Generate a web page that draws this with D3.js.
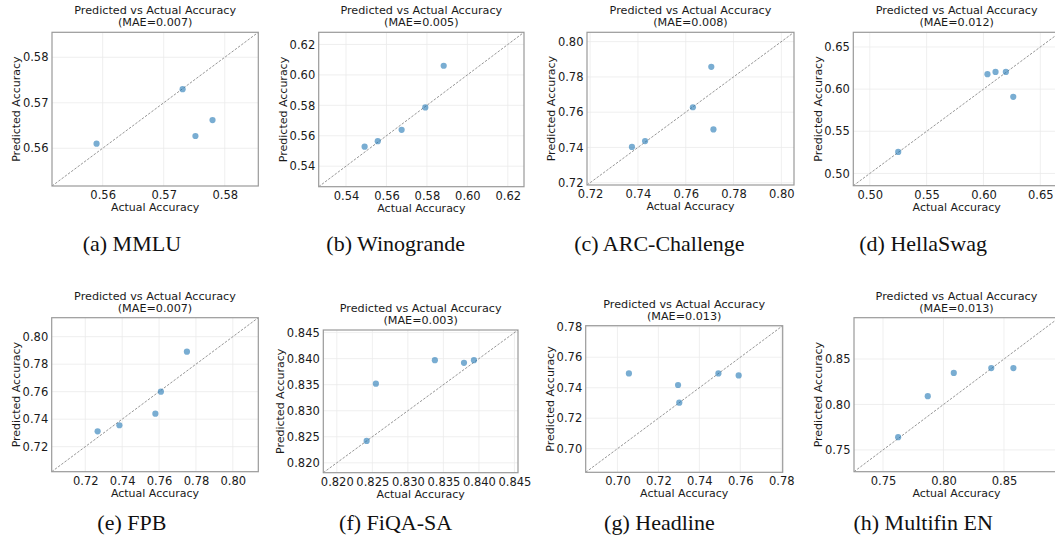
<!DOCTYPE html>
<html lang="en">
<head>
<meta charset="utf-8">
<title>Predicted vs Actual Accuracy</title>
<script src="https://d3js.org/d3.v7.min.js"></script>
<style>
  body { margin: 0; background: #fff; }
  svg { display: block; }
  .tick text { font-family: "DejaVu Sans", sans-serif; font-size: 11.5px; fill: #1a1a1a; }
  .ttl, .albl { font-family: "DejaVu Sans", sans-serif; fill: #1a1a1a; }
  .cap { font-family: "Liberation Serif", "Times New Roman", serif; font-size: 22px; fill: #111; }
</style>
</head>
<body>
<script>
// values
const names = ["MMLU", "Winogrande", "ARC-Challenge", "HellaSwag", "FPB", "FiQA-SA", "Headline", "Multifin EN"]
const letters = ["a", "b", "c", "d", "e", "f", "g", "h"]
const maes = ["0.007", "0.005", "0.008", "0.012", "0.007", "0.003", "0.013", "0.013"]

const mmluActual = [0.5590, 0.5731, 0.5752, 0.5780]
const mmluPred = [0.5610, 0.5730, 0.5627, 0.5662]
const winoActual = [0.5492, 0.5557, 0.5675, 0.5792, 0.5883]
const winoPred = [0.5528, 0.5564, 0.5639, 0.5786, 0.6060]
const arcActual = [0.7375, 0.7430, 0.7630, 0.7707, 0.7716]
const arcPred = [0.7403, 0.7436, 0.7628, 0.7857, 0.7502]
const hellaActual = [0.5250, 0.6035, 0.6106, 0.6197, 0.6262]
const hellaPred = [0.5256, 0.6177, 0.6204, 0.6204, 0.5909]
const fpbActual = [0.7267, 0.7385, 0.7580, 0.7610, 0.7751]
const fpbPred = [0.7312, 0.7356, 0.7440, 0.7600, 0.7891]
const fiqaActual = [0.8242, 0.8255, 0.8338, 0.8379, 0.8393]
const fiqaPred = [0.8242, 0.8352, 0.8397, 0.8392, 0.8397]
const headActual = [0.7056, 0.7296, 0.7302, 0.7493, 0.7592]
const headPred = [0.7494, 0.7418, 0.7302, 0.7494, 0.7481]
const multiActual = [0.7625, 0.7870, 0.8085, 0.8395, 0.8578]
const multiPred = [0.7640, 0.8091, 0.8347, 0.8401, 0.8401]

const actuals = [mmluActual, winoActual, arcActual, hellaActual, fpbActual, fiqaActual, headActual, multiActual]
const preds = [mmluPred, winoPred, arcPred, hellaPred, fpbPred, fiqaPred, headPred, multiPred]

// axis limits (same on x and y) and tick labels
const limits = [[0.5517, 0.5855], [0.5265, 0.628], [0.7187, 0.8053], [0.4855, 0.6674],
                [0.7018, 0.8138], [0.8181, 0.8455], [0.6845, 0.7807], [0.726, 0.8955]]
const ticks = [
  ["0.56", "0.57", "0.58"],
  ["0.54", "0.56", "0.58", "0.60", "0.62"],
  ["0.72", "0.74", "0.76", "0.78", "0.80"],
  ["0.50", "0.55", "0.60", "0.65"],
  ["0.72", "0.74", "0.76", "0.78", "0.80"],
  ["0.820", "0.825", "0.830", "0.835", "0.840", "0.845"],
  ["0.70", "0.72", "0.74", "0.76", "0.78"],
  ["0.75", "0.80", "0.85"]
]

// frame of each axes box in page pixels
const frames = [
  {x: 52, y: 32.3, w: 206.3, h: 153.7},
  {x: 318.7, y: 32.3, w: 205.3, h: 154.4},
  {x: 587, y: 32.3, w: 207, h: 152.7},
  {x: 853.3, y: 32.3, w: 206.8, h: 153.4},
  {x: 51.7, y: 317.7, w: 206.6, h: 154},
  {x: 323.3, y: 330, w: 194.7, h: 142.7},
  {x: 585.7, y: 325.7, w: 197, h: 146.6},
  {x: 854, y: 317.7, w: 205, h: 154}
]

const width = 1055
const height = 546
const captionY = [251, 530]

let svg = d3.select("body").append("svg")
    .attr("width", width)
    .attr("height", height)

svg.append("rect").attr("width", width).attr("height", height).attr("fill", "#fff")

let drawPanel = (i) => {
    let f = frames[i]
    let lim = limits[i]
    let xScale = d3.scaleLinear().domain(lim).range([f.x, f.x + f.w])
    let yScale = d3.scaleLinear().domain(lim).range([f.y + f.h, f.y])
    let tv = ticks[i].map(Number)
    let g = svg.append("g")

    g.append("clipPath").attr("id", "clip" + i)
        .append("rect").attr("x", f.x).attr("y", f.y).attr("width", f.w).attr("height", f.h)

    // grid
    let grid = g.append("g").attr("stroke", "#ebebeb").attr("stroke-width", 0.8)
    grid.selectAll(".gx").data(tv).enter().append("line")
        .attr("x1", d => xScale(d)).attr("x2", d => xScale(d))
        .attr("y1", f.y).attr("y2", f.y + f.h)
    grid.selectAll(".gy").data(tv).enter().append("line")
        .attr("y1", d => yScale(d)).attr("y2", d => yScale(d))
        .attr("x1", f.x).attr("x2", f.x + f.w)

    // diagonal
    g.append("line")
        .attr("clip-path", `url(#clip${i})`)
        .attr("x1", xScale(lim[0])).attr("y1", yScale(lim[0]))
        .attr("x2", xScale(lim[1])).attr("y2", yScale(lim[1]))
        .attr("stroke", "#8a8a8a").attr("stroke-width", 0.9)
        .attr("stroke-dasharray", "2.5,1.5")

    // points
    let pts = actuals[i].map((a, k) => ({a: a, p: preds[i][k]}))
    g.append("g").attr("clip-path", `url(#clip${i})`)
        .selectAll("circle").data(pts).enter().append("circle")
        .attr("cx", d => xScale(d.a))
        .attr("cy", d => yScale(d.p))
        .attr("r", 3.1)
        .attr("fill", "#1f77b4")
        .attr("fill-opacity", 0.6)

    // axes
    let xAxis = d3.axisBottom(xScale).tickValues(tv).tickSize(0).tickPadding(5)
        .tickFormat((d, k) => ticks[i][k])
    let yAxis = d3.axisLeft(yScale).tickValues(tv).tickSize(0).tickPadding(3.5)
        .tickFormat((d, k) => ticks[i][k])
    g.append("g").attr("transform", `translate(0,${f.y + f.h})`).call(xAxis)
        .call(s => s.select(".domain").remove())
    let ya = g.append("g").attr("transform", `translate(${f.x},0)`).call(yAxis)
    ya.select(".domain").remove()

    // frame
    g.append("rect")
        .attr("x", f.x).attr("y", f.y).attr("width", f.w).attr("height", f.h)
        .attr("fill", "none").attr("stroke", "#9a9a9a").attr("stroke-width", 1.2)

    // titles
    let cx = f.x + f.w / 2
    g.append("text").attr("class", "ttl").attr("x", cx).attr("y", f.y - 18)
        .attr("text-anchor", "middle").attr("font-size", 11.2)
        .text("Predicted vs Actual Accuracy")
    g.append("text").attr("class", "ttl").attr("x", cx).attr("y", f.y - 6)
        .attr("text-anchor", "middle").attr("font-size", 11.2)
        .text(`(MAE=${maes[i]})`)

    g.append("text").attr("class", "albl").attr("x", cx).attr("y", f.y + f.h + 25)
        .attr("text-anchor", "middle").attr("font-size", 11)
        .text("Actual Accuracy")

    // y label sits left of the tick labels
    let bb = ya.node().getBBox()
    let lx = f.x + bb.x - 2.5
    g.append("text").attr("class", "albl")
        .attr("transform", `translate(${lx},${f.y + f.h / 2}) rotate(-90)`)
        .attr("text-anchor", "middle").attr("font-size", 11)
        .text("Predicted Accuracy")

    // caption
    let col = i % 4
    let row = Math.floor(i / 4)
    let capX = width / 4 * (col + 0.5)
    svg.append("text").attr("class", "cap")
        .attr("x", capX).attr("y", captionY[row])
        .attr("text-anchor", "middle")
        .text(`(${letters[i]}) ${names[i]}`)
}

names.forEach((n, i) => drawPanel(i))
</script>
</body>
</html>
